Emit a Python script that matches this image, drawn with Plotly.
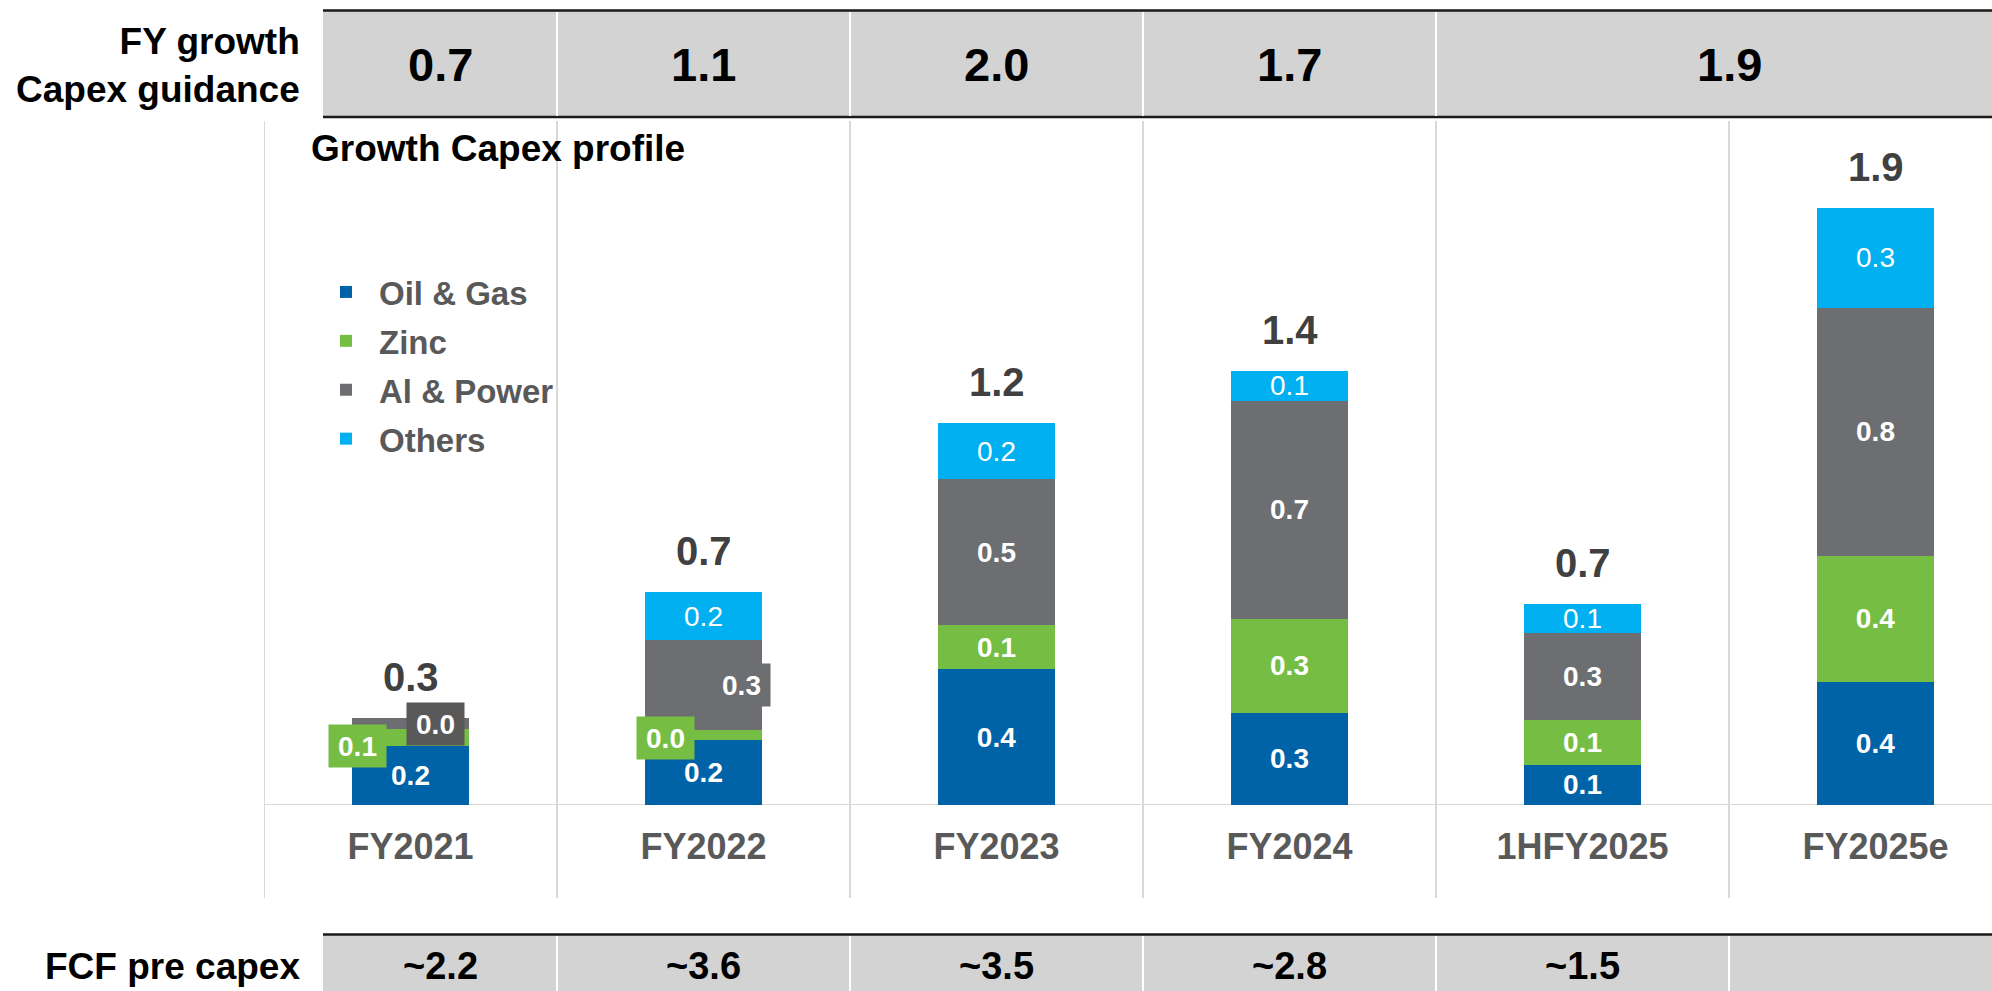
import plotly.graph_objects as go

# ---------------- data ----------------
categories = ["FY2021", "FY2022", "FY2023", "FY2024", "1HFY2025", "FY2025e"]
oil_gas = [0.19, 0.21, 0.44, 0.30, 0.13, 0.40]
zinc = [0.056, 0.032, 0.143, 0.305, 0.146, 0.409]
al_power = [0.036, 0.295, 0.474, 0.708, 0.282, 0.805]
others = [0.0, 0.153, 0.182, 0.097, 0.094, 0.325]

guidance_labels = ["0.7", "1.1", "2.0", "1.7", "1.9"]
guidance_spans = [["FY2021"], ["FY2022"], ["FY2023"], ["FY2024"], ["1HFY2025", "FY2025e"]]
fcf_labels = ["~2.2", "~3.6", "~3.5", "~2.8", "~1.5", ""]

# ---------------- style ----------------
FONT = "Liberation Sans, Arial, sans-serif"
W, H = 1992, 991
PLOT_L, PLOT_T, PLOT_B = 264, 121, 805
PX_PER_UNIT = 308.0
CAT_PX = 293.0
TABLE_LEFT_PX = 323

series = [
    ("Oil & Gas", oil_gas, "#0063A7", "bold"),
    ("Zinc", zinc, "#76BE43", "bold"),
    ("Al & Power", al_power, "#6D6E71", "bold"),
    ("Others", others, "#00B0F0", "normal"),
]

# label callouts drawn as boxes next to thin segments: (category, series) -> (xshift, yshift, box colour)
callouts = {
    ("FY2021", "Zinc"): (-53, -8, "#76BE43"),
    ("FY2021", "Al & Power"): (25, 0, "#595959"),
    ("FY2022", "Zinc"): (-38, -3, "#76BE43"),
    ("FY2022", "Al & Power"): (38, 0, "#6D6E71"),
}


def py2paper(py):
    return (PLOT_B - py) / (PLOT_B - PLOT_T)


def px2paperx(px):
    return (px - PLOT_L) / (W - PLOT_L)


fig = go.Figure()
for name, vals, color, weight in series:
    texts = []
    for c, v in zip(categories, vals):
        if v <= 0 or (c, name) in callouts:
            texts.append("")
        else:
            texts.append(f"{v:.1f}")
    fig.add_trace(go.Bar(
        x=categories, y=vals, name=name, legendgroup=name,
        marker=dict(color=color, line=dict(width=0)),
        width=0.4, text=texts, textposition="inside",
        insidetextanchor="middle", textangle=0, constraintext="none",
        textfont=dict(family=FONT, size=28, color="white", weight=weight),
        hoverinfo="skip",
    ))

annotations = []
# callout boxes
for (cat, name), (xs, ys, bg) in callouts.items():
    i = categories.index(cat)
    base = 0.0
    for sname, vals, _, _ in series:
        if sname == name:
            v = vals[i]
            break
        base += vals[i]
    annotations.append(dict(
        x=cat, y=base + v / 2, xref="x", yref="y", text=f"{v:.1f}", showarrow=False,
        xshift=xs, yshift=ys, bgcolor=bg, width=55, height=40, borderpad=1,
        font=dict(family=FONT, size=28, color="white", weight="bold"),
    ))

# totals above bars
for i, c in enumerate(categories):
    tot = oil_gas[i] + zinc[i] + al_power[i] + others[i]
    annotations.append(dict(
        x=c, y=tot, xref="x", yref="y", text=f"{tot:.1f}", showarrow=False,
        yshift=41, yanchor="middle",
        font=dict(family=FONT, size=40, color="#404040", weight="bold"),
    ))

shapes = []
# column separators
for k in range(len(categories)):
    shapes.append(dict(type="line", xref="x", yref="paper", x0=k - 0.5, x1=k - 0.5,
                       y0=py2paper(898), y1=1.0, line=dict(color="#D9D9D9", width=2),
                       layer="below"))
# baseline
shapes.append(dict(type="line", xref="paper", yref="y", x0=0, x1=1, y0=0, y1=0,
                   line=dict(color="#D9D9D9", width=2), layer="below"))

table_left_cat = -0.5 + (TABLE_LEFT_PX - PLOT_L) / CAT_PX
tx0 = px2paperx(TABLE_LEFT_PX)

# top table (FY growth capex guidance)
shapes.append(dict(type="rect", xref="paper", yref="paper", x0=tx0, x1=1.0,
                   y0=py2paper(117), y1=py2paper(10.5), fillcolor="#D3D3D3",
                   line=dict(width=0)))
for py in (10.5, 117):
    shapes.append(dict(type="line", xref="paper", yref="paper", x0=tx0, x1=1.0,
                       y0=py2paper(py), y1=py2paper(py), line=dict(color="#1A1A1A", width=2.5)))
for j, span in enumerate(guidance_spans):
    i0 = categories.index(span[0])
    i1 = categories.index(span[-1])
    left = table_left_cat if i0 == 0 else i0 - 0.5
    right = i1 + 0.5
    if j > 0:
        shapes.append(dict(type="line", xref="x", yref="paper", x0=i0 - 0.5, x1=i0 - 0.5,
                           y0=py2paper(116), y1=py2paper(12), line=dict(color="white", width=2)))
    annotations.append(dict(
        x=(left + right) / 2, y=py2paper(64), xref="x", yref="paper",
        text=guidance_labels[j], showarrow=False, xanchor="center", yanchor="middle",
        font=dict(family=FONT, size=47, color="black", weight="bold"),
    ))

# bottom table (FCF pre capex)
shapes.append(dict(type="rect", xref="paper", yref="paper", x0=tx0, x1=1.0,
                   y0=py2paper(995), y1=py2paper(935), fillcolor="#D3D3D3",
                   line=dict(width=0)))
shapes.append(dict(type="line", xref="paper", yref="paper", x0=tx0, x1=1.0,
                   y0=py2paper(934.5), y1=py2paper(934.5), line=dict(color="#1A1A1A", width=2.5)))
for i, lab in enumerate(fcf_labels):
    left = table_left_cat if i == 0 else i - 0.5
    right = i + 0.5
    if i > 0:
        shapes.append(dict(type="line", xref="x", yref="paper", x0=i - 0.5, x1=i - 0.5,
                           y0=py2paper(995), y1=py2paper(936), line=dict(color="white", width=2)))
    if lab:
        annotations.append(dict(
            x=(left + right) / 2, y=py2paper(966), xref="x", yref="paper",
            text=lab, showarrow=False, xanchor="center", yanchor="middle",
            font=dict(family=FONT, size=38, color="black", weight="bold"),
        ))

# row headers and chart title
annotations.append(dict(
    x=px2paperx(302), y=py2paper(66), xref="paper", yref="paper",
    text="FY growth<br>Capex guidance", showarrow=False, xanchor="right", yanchor="middle",
    align="right", font=dict(family=FONT, size=37, color="black", weight="bold"),
))
annotations.append(dict(
    x=px2paperx(302), y=py2paper(966), xref="paper", yref="paper",
    text="FCF pre capex", showarrow=False, xanchor="right", yanchor="middle",
    align="right", font=dict(family=FONT, size=37, color="black", weight="bold"),
))
annotations.append(dict(
    x=px2paperx(309), y=py2paper(148), xref="paper", yref="paper",
    text="Growth Capex profile", showarrow=False, xanchor="left", yanchor="middle",
    font=dict(family=FONT, size=37, color="black", weight="bold"),
))

fig.update_layout(
    width=W, height=H,
    margin=dict(l=PLOT_L, r=0, t=PLOT_T, b=H - PLOT_B, pad=0),
    paper_bgcolor="white", plot_bgcolor="white",
    barmode="stack",
    showlegend=True,
    legend=dict(
        x=px2paperx(313), y=py2paper(264), xanchor="left", yanchor="top",
        bgcolor="rgba(0,0,0,0)", borderwidth=0,
        font=dict(family=FONT, size=33, color="#595959", weight="bold"),
        traceorder="grouped", tracegroupgap=3, itemwidth=56,
    ),
    xaxis=dict(
        type="category", categoryorder="array", categoryarray=categories,
        range=[-0.5, -0.5 + (W - PLOT_L) / CAT_PX],
        showgrid=False, zeroline=False, showline=False,
        ticks="outside", ticklen=10, tickcolor="rgba(0,0,0,0)",
        tickfont=dict(family=FONT, size=36, color="#595959", weight="bold"),
        fixedrange=True,
    ),
    yaxis=dict(
        range=[0, (PLOT_B - PLOT_T) / PX_PER_UNIT], visible=False, fixedrange=True,
    ),
    shapes=shapes,
    annotations=annotations,
    hovermode=False,
)

fig.write_html("out.html", config={"displayModeBar": False},
               post_script="document.body.style.margin='0px';")
